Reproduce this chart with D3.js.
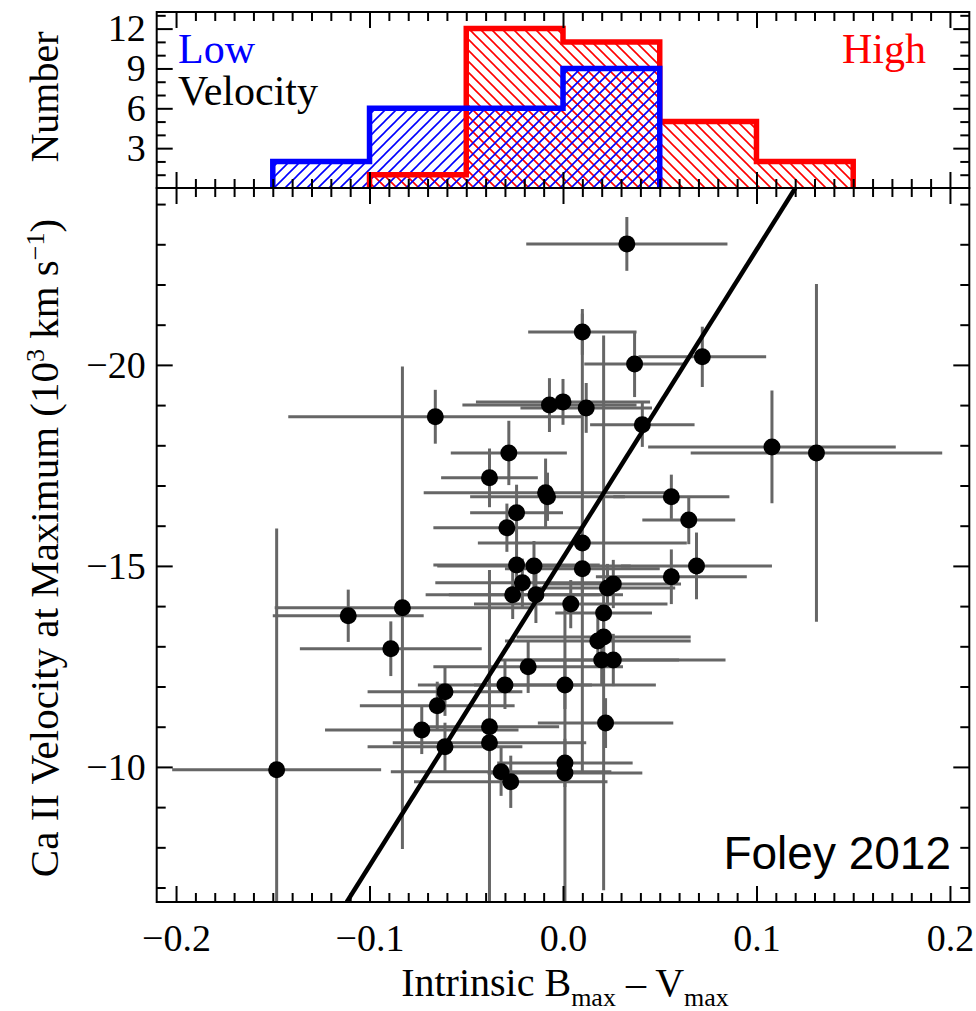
<!DOCTYPE html>
<html>
<head>
<meta charset="utf-8">
<script src="https://cdn.jsdelivr.net/npm/d3@7"></script>
<style>
  body { margin: 0; background: #fff; }
  text { font-family: "Liberation Serif", "Times New Roman", serif; }
</style>
</head>
<body>
<div id="chart"></div>
<script>
// Histogram (bin edges and counts per velocity group)
let histEdges = [-0.15, -0.1, -0.05, 0, 0.05, 0.1, 0.15];
let lowCounts = [2, 6, 6, 9, 0, 0];
let highCounts = [0, 1, 12, 11, 5, 2];

// Scatter points: intrinsic B-V, Ca II velocity (10^3 km/s) and their errors
let bmv = [0.033, 0.010, 0.072, 0.037, -0.066, -0.007, 0.000, 0.012, 0.041, 0.108,
  0.131, -0.028, -0.038, -0.009, -0.008, 0.056, -0.024, 0.065, -0.029, 0.010,
  -0.024, -0.015, 0.010, 0.069, 0.056, -0.021, 0.023, 0.026, -0.026, -0.014,
  0.004, 0.021, -0.111, -0.083, -0.089, 0.018, 0.021, 0.020, 0.026, -0.018,
  -0.030, 0.001, -0.061, -0.065, -0.073, -0.038, 0.022, -0.038, -0.061, -0.032,
  -0.027, 0.001, 0.001, -0.148];
let vel = [-23.01, -20.82, -20.20, -20.02, -18.71, -19.00, -19.08, -18.93, -18.51, -17.96,
  -17.81, -17.81, -17.19, -16.82, -16.72, -16.72, -16.32, -16.14, -15.95, -15.57,
  -15.02, -15.00, -14.93, -15.00, -14.73, -14.58, -14.45, -14.55, -14.28, -14.28,
  -14.05, -13.83, -13.76, -13.96, -12.94, -13.13, -13.23, -12.66, -12.66, -12.49,
  -12.04, -12.04, -11.87, -11.52, -10.92, -11.00, -11.09, -10.60, -10.50, -9.88,
  -9.63, -10.10, -9.85, -9.93];
let bmvErr = [0.052, 0.028, 0.033, 0.026, 0.076, 0.045, 0.045, 0.034, 0.027, 0.064,
  0.065, 0.030, 0.025, 0.063, 0.040, 0.030, 0.024, 0.024, 0.038, 0.054,
  0.043, 0.050, 0.040, 0.039, 0.039, 0.045, 0.035, 0.035, 0.045, 0.045,
  0.050, 0.025, 0.039, 0.066, 0.047, 0.048, 0.045, 0.040, 0.058, 0.049,
  0.045, 0.047, 0.040, 0.040, 0.050, 0.036, 0.035, 0.050, 0.040, 0.057,
  0.050, 0.035, 0.040, 0.054];
let velErr = [0.67, 0.57, 0.75, 0.82, 0.67, 0.67, 0.57, 0.62, 0.55, 1.40,
  4.20, 0.80, 0.73, 0.85, 0.60, 0.55, 0.70, 0.60, 0.60, 5.70,
  0.60, 0.62, 0.60, 0.83, 0.68, 0.60, 0.60, 0.60, 0.60, 0.70,
  0.60, 6.90, 0.65, 6.00, 0.68, 0.60, 0.65, 0.60, 0.65, 0.65,
  0.60, 0.60, 0.60, 0.60, 0.60, 0.60, 0.62, 4.30, 0.60, 0.60,
  0.65, 0.60, 4.10, 6.00];

// Fitted relation
let fitSlope = -76.6;
let fitIntercept = -15.2;

// Tick labels
let xMajor = [-0.2, -0.1, 0.0, 0.1, 0.2];
let yMajor = [-20, -15, -10];
let histMajor = [3, 6, 9, 12];

function BuildGraph(){
  let width = 976, height = 1011;
  let left = 156.7, right = 969.3;
  let histTop = 12, split = 188, bottom = 902;
  let majorLen = 16, minorLen = 9;

  let svg = d3.select('#chart').append('svg')
    .attr('width', width).attr('height', height);

  let x = d3.scaleLinear().domain([-0.21, 0.21]).range([left, right]);
  let yHist = d3.scaleLinear().domain([0, 13.25]).range([split, histTop]);
  let y = d3.scaleLinear().domain([-24.4, -6.64]).range([split, bottom]);

  let defs = svg.append('defs');
  // hatch patterns
  function hatch(id, color, dir){
    let p = defs.append('pattern').attr('id', id)
      .attr('patternUnits', 'userSpaceOnUse').attr('width', 11).attr('height', 11);
    let d = dir > 0
      ? 'M-1,1 l2,-2 M0,11 l11,-11 M10,12 l2,-2'
      : 'M-1,10 l2,2 M0,0 l11,11 M10,-1 l2,2';
    p.append('path').attr('d', d).attr('stroke', color).attr('stroke-width', 1.6);
  }
  hatch('hatchLow', '#0000ff', 1);
  hatch('hatchHigh', '#ff0000', -1);

  defs.append('clipPath').attr('id', 'mainClip').append('rect')
    .attr('x', left).attr('y', split).attr('width', right - left).attr('height', bottom - split);
  defs.append('clipPath').attr('id', 'histClip').append('rect')
    .attr('x', left).attr('y', histTop).attr('width', right - left).attr('height', split - histTop);

  // ---- histogram ----
  function stepPoints(counts){
    let first = counts.findIndex(c => c > 0);
    let last = counts.length - 1 - [...counts].reverse().findIndex(c => c > 0);
    let pts = [[histEdges[first], 0]];
    for (let i = first; i <= last; i++){
      pts.push([histEdges[i], counts[i]]);
      pts.push([histEdges[i + 1], counts[i]]);
    }
    pts.push([histEdges[last + 1], 0]);
    return pts;
  }
  let stepLine = d3.line().x(d => x(d[0])).y(d => yHist(d[1]));
  let hist = svg.append('g').attr('clip-path', 'url(#histClip)');
  let lowPts = stepPoints(lowCounts), highPts = stepPoints(highCounts);

  hist.append('path').attr('d', stepLine(highPts) + 'Z')
    .attr('fill', 'url(#hatchHigh)').attr('stroke', 'none');
  hist.append('path').attr('d', stepLine(lowPts) + 'Z')
    .attr('fill', 'url(#hatchLow)').attr('stroke', 'none');
  hist.append('path').attr('d', stepLine(highPts))
    .attr('fill', 'none').attr('stroke', '#ff0000').attr('stroke-width', 5.5);
  hist.append('path').attr('d', stepLine(lowPts))
    .attr('fill', 'none').attr('stroke', '#0000ff').attr('stroke-width', 5.5);

  // ---- main panel ----
  let main = svg.append('g').attr('clip-path', 'url(#mainClip)');
  let pts = bmv.map((b, i) => ({x: b, y: vel[i], xe: bmvErr[i], ye: velErr[i]}));

  main.selectAll('line.xerr').data(pts).enter().append('line')
    .attr('class', 'xerr')
    .attr('x1', d => x(d.x - d.xe)).attr('x2', d => x(d.x + d.xe))
    .attr('y1', d => y(d.y)).attr('y2', d => y(d.y))
    .attr('stroke', '#666').attr('stroke-width', 3);
  main.selectAll('line.yerr').data(pts).enter().append('line')
    .attr('class', 'yerr')
    .attr('x1', d => x(d.x)).attr('x2', d => x(d.x))
    .attr('y1', d => y(d.y - d.ye)).attr('y2', d => y(d.y + d.ye))
    .attr('stroke', '#666').attr('stroke-width', 3);

  // fit line across the panel
  let yd = y.domain();
  let fitPts = yd.map(v => [(v - fitIntercept) / fitSlope, v]);
  main.append('line')
    .attr('x1', x(fitPts[0][0])).attr('y1', y(fitPts[0][1]))
    .attr('x2', x(fitPts[1][0])).attr('y2', y(fitPts[1][1]))
    .attr('stroke', '#000').attr('stroke-width', 4.5);

  main.selectAll('circle').data(pts).enter().append('circle')
    .attr('cx', d => x(d.x)).attr('cy', d => y(d.y)).attr('r', 8.5)
    .attr('fill', '#000');

  // ---- axes / ticks ----
  let xMinor = d3.range(-20, 21).filter(i => i % 10 != 0).map(i => i / 100);
  let yMinor = d3.range(-24, -6).filter(v => v % 5 != 0);
  let histMinor = d3.range(1, 14).filter(v => v % 3 != 0);

  function ticks(axisFn, scale, values, len, tx, ty, fmt, pad){
    let ax = axisFn(scale).tickValues(values).tickSize(-len).tickPadding(pad || 0);
    ax.tickFormat(fmt || (() => ''));
    let g = svg.append('g').attr('transform', 'translate(' + tx + ',' + ty + ')').call(ax);
    g.select('.domain').remove();
    g.selectAll('line').attr('stroke', '#000').attr('stroke-width', 2);
    g.selectAll('text').style('font-size', '38px')
      .style('font-family', '"Liberation Serif", "Times New Roman", serif').attr('fill', '#000');
    return g;
  }

  // main panel
  ticks(d3.axisBottom, x, xMajor, majorLen, 0, bottom, d3.format('.1f'), 22);
  ticks(d3.axisBottom, x, xMinor, minorLen, 0, bottom);
  ticks(d3.axisTop, x, xMajor, majorLen, 0, split);
  ticks(d3.axisTop, x, xMinor, minorLen, 0, split);
  ticks(d3.axisLeft, y, yMajor, majorLen, left, 0, d3.format('d'), 11);
  ticks(d3.axisLeft, y, yMinor, minorLen, left, 0);
  ticks(d3.axisRight, y, yMajor, majorLen, right, 0);
  ticks(d3.axisRight, y, yMinor, minorLen, right, 0);

  // histogram panel
  ticks(d3.axisBottom, x, xMajor, majorLen, 0, split);
  ticks(d3.axisBottom, x, xMinor, minorLen, 0, split);
  ticks(d3.axisTop, x, xMajor, majorLen, 0, histTop);
  ticks(d3.axisTop, x, xMinor, minorLen, 0, histTop);
  ticks(d3.axisLeft, yHist, histMajor, majorLen, left, 0, d3.format('d'), 11);
  ticks(d3.axisLeft, yHist, histMinor, minorLen, left, 0);
  ticks(d3.axisRight, yHist, histMajor, majorLen, right, 0);
  ticks(d3.axisRight, yHist, histMinor, minorLen, right, 0);

  // frames
  svg.append('rect').attr('x', left).attr('y', histTop)
    .attr('width', right - left).attr('height', split - histTop)
    .attr('fill', 'none').attr('stroke', '#000').attr('stroke-width', 2);
  svg.append('rect').attr('x', left).attr('y', split)
    .attr('width', right - left).attr('height', bottom - split)
    .attr('fill', 'none').attr('stroke', '#000').attr('stroke-width', 2);

  // ---- labels ----
  svg.append('text').attr('x', 178).attr('y', 63).attr('fill', '#0000ff')
    .style('font-size', '42px').text('Low');
  svg.append('text').attr('x', 178).attr('y', 105).attr('fill', '#000')
    .style('font-size', '42px').text('Velocity');
  svg.append('text').attr('x', 926).attr('y', 63).attr('text-anchor', 'end')
    .attr('fill', '#ff0000').style('font-size', '42px').text('High');

  svg.append('text').attr('x', 951).attr('y', 869).attr('text-anchor', 'end')
    .style('font-family', '"Liberation Sans", Arial, sans-serif')
    .style('font-size', '46px').text('Foley 2012');

  svg.append('text')
    .attr('transform', 'translate(58,97)rotate(-90)')
    .attr('text-anchor', 'middle').style('font-size', '40px').text('Number');

  let ylab = svg.append('text')
    .attr('transform', 'translate(58,548)rotate(-90)')
    .attr('text-anchor', 'middle').style('font-size', '41px');
  ylab.append('tspan').text('Ca II Velocity at Maximum (10');
  ylab.append('tspan').attr('dy', -14).style('font-size', '26px').text('3');
  ylab.append('tspan').attr('dy', 14).text(' km s');
  ylab.append('tspan').attr('dy', -14).style('font-size', '26px').text('\u22121');
  ylab.append('tspan').attr('dy', 14).text(')');

  let xlab = svg.append('text').attr('x', 565).attr('y', 996)
    .attr('text-anchor', 'middle').style('font-size', '40px');
  xlab.append('tspan').text('Intrinsic B');
  xlab.append('tspan').attr('dy', 10).style('font-size', '26px').text('max');
  xlab.append('tspan').attr('dy', -10).text(' \u2013 V');
  xlab.append('tspan').attr('dy', 10).style('font-size', '26px').text('max');
}

document.addEventListener('DOMContentLoaded', function(){
  BuildGraph();
});
</script>
</body>
</html>
